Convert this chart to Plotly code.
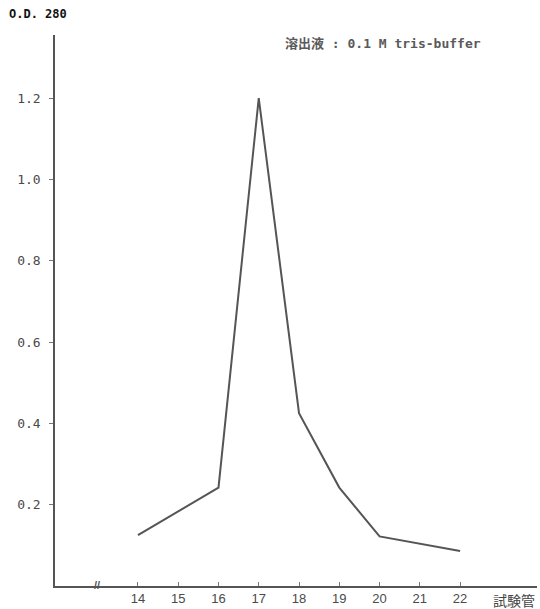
import plotly.graph_objects as go

tubes = [14, 16, 17, 18, 19, 20, 22]
od280 = [0.125, 0.242, 1.2, 0.425, 0.242, 0.122, 0.086]
x_ticks = [14, 15, 16, 17, 18, 19, 20, 21, 22]
y_ticks = [0.2, 0.4, 0.6, 0.8, 1.0, 1.2]
y_tick_labels = ["0.2", "0.4", "0.6", "0.8", "1.0", "1.2"]

ink = "#4a4a4a"
mono = "DejaVu Sans Mono"

fig = go.Figure()
fig.add_trace(go.Scatter(x=tubes, y=od280, mode="lines",
                         line=dict(color="#555555", width=2), showlegend=False))

fig.update_layout(
    width=540, height=609,
    margin=dict(l=55, r=3, t=35, b=21),
    plot_bgcolor="white", paper_bgcolor="white",
    xaxis=dict(range=[11.94, 23.91], tickvals=x_ticks, ticktext=[str(t) for t in x_ticks],
               showgrid=False, zeroline=False, showline=True, linecolor="#555555", linewidth=1.5,
               ticks="inside", ticklen=4, tickcolor="#777777", ticklabelstandoff=0,
               tickfont=dict(family="Liberation Sans", size=13, color=ink)),
    yaxis=dict(range=[0, 1.355], tickvals=y_ticks, ticktext=y_tick_labels,
               showgrid=False, zeroline=False, showline=True, linecolor="#555555", linewidth=1.5,
               ticks="outside", ticklen=4, tickcolor="#777777", ticklabelstandoff=6,
               tickfont=dict(family=mono, size=13, color=ink)),
    annotations=[
        dict(text="<b>O.D. 280</b>", xref="paper", yref="paper", x=-0.1, y=1.0, yshift=21,
             xanchor="left", yanchor="middle", showarrow=False,
             font=dict(family=mono, size=12, color="#111111")),
        dict(text="<b>溶出液 : 0.1 M tris-buffer</b>", xref="paper", yref="paper", x=0.473, y=1.0, yshift=-8,
             xanchor="left", yanchor="middle", showarrow=False,
             font=dict(family=mono + ", Noto Sans CJK JP", size=13, color="#5a5a5a")),
        dict(text="試験管", xref="paper", yref="paper", x=1.0, y=0, yshift=-14,
             xanchor="right", yanchor="middle", showarrow=False,
             font=dict(family="Noto Sans CJK JP", size=14, color="#444444")),
        dict(text="<b>//</b>", xref="paper", yref="paper", x=0.088, y=0, yshift=1,
             xanchor="center", yanchor="middle", showarrow=False,
             font=dict(family="Liberation Sans", size=11, color="#555555")),
    ],
)

fig.write_html("out.html", config={"displayModeBar": False},
               post_script="document.body.style.margin='0';document.body.style.overflow='hidden';")
